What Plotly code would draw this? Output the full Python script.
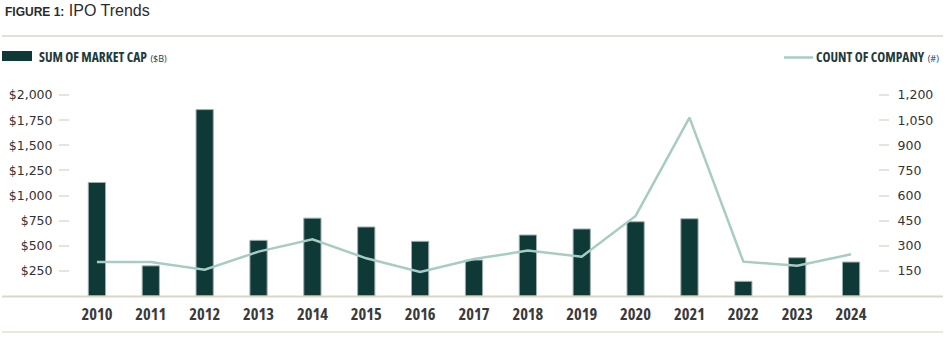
import plotly.graph_objects as go

years = [str(y) for y in range(2010, 2025)]
market_cap = [1130, 300, 1855, 554, 775, 687, 544, 358, 607, 667, 739, 769, 146, 381, 338]
company_count = [203, 203, 157, 265, 339, 225, 143, 221, 271, 235, 478, 1065, 205, 181, 249]
left_ticks = [250, 500, 750, 1000, 1250, 1500, 1750, 2000]
right_ticks = [150, 300, 450, 600, 750, 900, 1050, 1200]

W, H = 945, 357
L, R, T, B = 70, 878, 85, 296
PW, PH = R - L, B - T

def px(x):
    return (x - L) / PW

def py(y):
    return (B - y) / PH

BAR = "#0f3937"
LINE = "#a7ccc4"
BEIGE = "#dcd6c8"
TICKC = "#e6e4dc"
COND = "Open Sans"
CS = "<span style='font-stretch:condensed'>{}</span>"

fig = go.Figure()
fig.add_trace(go.Bar(
    x=years, y=market_cap, width=0.32,
    marker=dict(color=BAR, line=dict(color="#9fb0ac", width=1)),
    yaxis="y", showlegend=False,
))
fig.add_trace(go.Scatter(
    x=years, y=company_count, mode="lines",
    line=dict(color=LINE, width=2.5),
    yaxis="y2", showlegend=False,
))

fig.update_layout(
    width=W, height=H,
    margin=dict(l=L, r=W - R, t=T, b=H - B, pad=0, autoexpand=False),
    paper_bgcolor="white", plot_bgcolor="white",
    xaxis=dict(
        type="category", range=[-0.5, 14.5], showgrid=False, showline=False,
        tickmode="array", tickvals=years, ticktext=[CS.format(y) for y in years],
        ticks="outside", ticklen=3, tickcolor="rgba(0,0,0,0)", zeroline=False,
        automargin=False,
        tickfont=dict(family=COND, size=16.5, color="#3a3a3a", weight="bold"),
    ),
    yaxis=dict(
        range=[0, 2100], tickvals=left_ticks, tickformat="$,.0f",
        showgrid=False, zeroline=False, showline=False, automargin=False,
        ticks="outside", ticklen=10, tickwidth=1.5, tickcolor=TICKC,
        ticklabelstandoff=4,
        tickfont=dict(family="DejaVu Sans", size=12.5, color="#333333"),
    ),
    yaxis2=dict(
        range=[0, 1260], tickvals=right_ticks, tickformat=",.0f",
        overlaying="y", side="right",
        showgrid=False, zeroline=False, showline=False, automargin=False,
        ticks="outside", ticklen=10, tickwidth=1.5, tickcolor=TICKC,
        ticklabelstandoff=6,
        tickfont=dict(family="DejaVu Sans", size=12.5, color="#333333"),
    ),
    bargap=0.5,
)

shapes = [
    dict(type="line", xref="paper", yref="paper", x0=px(2), x1=px(943), y0=py(36), y1=py(36),
         line=dict(color=BEIGE, width=1.5)),
    dict(type="line", xref="paper", yref="paper", x0=px(2), x1=px(943), y0=py(296.5), y1=py(296.5),
         line=dict(color=BEIGE, width=2)),
    dict(type="line", xref="paper", yref="paper", x0=px(2), x1=px(943), y0=py(332), y1=py(332),
         line=dict(color="#e4e0d5", width=1.5)),
    dict(type="rect", xref="paper", yref="paper", x0=px(2), x1=px(32), y0=py(61), y1=py(51),
         fillcolor=BAR, line=dict(width=0)),
    dict(type="line", xref="paper", yref="paper", x0=px(784), x1=px(813), y0=py(57.5), y1=py(57.5),
         line=dict(color=LINE, width=2.5)),
]

annotations = [
    dict(xref="paper", yref="paper", x=px(3), y=py(11), xanchor="left", yanchor="middle",
         showarrow=False,
         text="<b><span style='font-size:12px'>FIGURE 1:</span></b> IPO Trends",
         font=dict(family="Liberation Sans", size=16, color="#2b2b2b")),
    dict(xref="paper", yref="paper", x=px(37), y=py(57), xanchor="left", yanchor="middle",
         showarrow=False,
         text=CS.format("<b>SUM OF MARKET CAP</b>") + " <span style='font-size:9px'>($B)</span>",
         font=dict(family=COND, size=13.5, color="#1d3b3a")),
    dict(xref="paper", yref="paper", x=px(941), y=py(57), xanchor="right", yanchor="middle",
         showarrow=False,
         text=CS.format("<b>COUNT OF COMPANY</b>") + " <span style='font-size:9px'>(#)</span>",
         font=dict(family=COND, size=13.5, color="#1d3b3a")),
]

fig.update_layout(shapes=shapes, annotations=annotations)
fig.write_html("out.html", config={"displayModeBar": False},
               post_script="document.body.style.margin='0';document.body.style.padding='0';")
